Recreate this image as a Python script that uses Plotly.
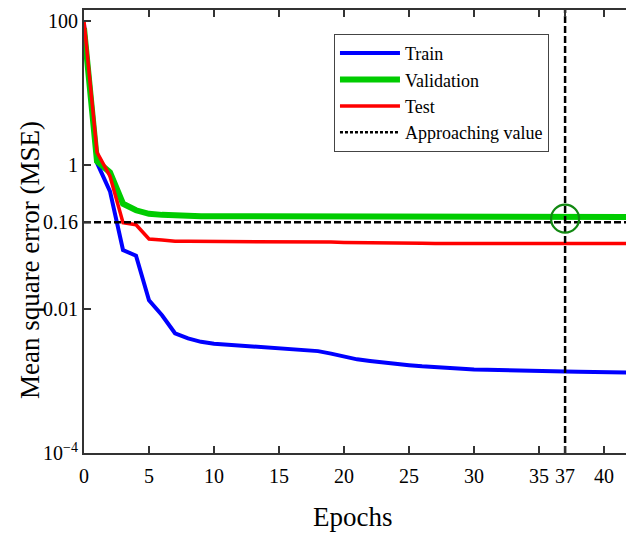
import plotly.graph_objects as go

epochs = list(range(0, 44))

train_mse = [90, 1.07, 0.43, 0.066, 0.055, 0.0132, 0.0082, 0.0046, 0.0039, 0.0035,
             0.0033, 0.0032, 0.0031, 0.00305, 0.0030, 0.0029, 0.0028, 0.0027, 0.0026, 0.0024,
             0.0022, 0.0020, 0.0019, 0.00180, 0.00172, 0.00166, 0.00160, 0.00155, 0.00151, 0.00148,
             0.00145, 0.00143, 0.00141, 0.00139, 0.00138, 0.00137, 0.00136, 0.00135, 0.00134, 0.00133,
             0.00132, 0.00131, 0.00130, 0.00130]

valid_mse = [80, 1.13, 0.79, 0.29, 0.235, 0.21, 0.203, 0.198, 0.196, 0.195,
             0.194, 0.194, 0.193, 0.193, 0.192, 0.192, 0.192, 0.191, 0.191, 0.191,
             0.19, 0.19, 0.19, 0.19, 0.19, 0.19, 0.19, 0.19, 0.19, 0.19,
             0.19, 0.19, 0.19, 0.19, 0.19, 0.19, 0.19, 0.19, 0.19, 0.19,
             0.19, 0.19, 0.19, 0.19]

test_mse = [100, 1.5, 0.70, 0.158, 0.148, 0.094, 0.091, 0.087, 0.087, 0.087,
            0.087, 0.086, 0.086, 0.086, 0.086, 0.086, 0.085, 0.085, 0.085, 0.085,
            0.084, 0.084, 0.083, 0.083, 0.082, 0.082, 0.082, 0.081, 0.081, 0.081,
            0.081, 0.081, 0.081, 0.081, 0.081, 0.081, 0.081, 0.081, 0.081, 0.081,
            0.081, 0.081, 0.081, 0.081]

approach_epoch = 37
approach_mse = 0.16
marker_mse = 0.18

x_tickvals = [0, 5, 10, 15, 20, 25, 30, 35, 37, 40]
y_tickvals = [1e-4, 0.01, 0.16, 1, 100]
y_ticktext = ["10<sup>\u22124</sup>", "0.01", "0.16", "1", "100"]

x_range = [0, 42.3]
y_range_log = [-4, 2.153]

FONT = "Liberation Serif, Times New Roman, serif"

fig = go.Figure()
fig.add_trace(go.Scatter(x=epochs, y=train_mse, mode="lines", name="Train",
                         line=dict(color="#0000ff", width=4)))
fig.add_trace(go.Scatter(x=epochs, y=valid_mse, mode="lines", name="Validation",
                         line=dict(color="#00cc00", width=6)))
fig.add_trace(go.Scatter(x=epochs, y=test_mse, mode="lines", name="Test",
                         line=dict(color="#ff0000", width=3.5)))
# legend-only entry
fig.add_trace(go.Scatter(x=[None], y=[None], mode="lines", name="Approaching value",
                         line=dict(color="black", width=2.5, dash="3px,2px")))
# dashed guide lines
fig.add_trace(go.Scatter(x=[x_range[0], epochs[-1]], y=[approach_mse, approach_mse], mode="lines",
                         showlegend=False, line=dict(color="black", width=2.5, dash="7px,3px")))
fig.add_trace(go.Scatter(x=[approach_epoch, approach_epoch],
                         y=[10 ** y_range_log[0], 10 ** (y_range_log[1] + 0.1)], mode="lines",
                         showlegend=False, line=dict(color="black", width=2.5, dash="7px,3px")))
fig.add_trace(go.Scatter(x=[approach_epoch], y=[marker_mse], mode="markers", showlegend=False,
                         marker=dict(symbol="circle-open", size=28, color="#118811",
                                     line=dict(width=2.2, color="#118811"))))

# page body has an 8px default margin, so the figure is shrunk by 8px and offset
fig.update_layout(
    width=626, height=526,
    margin=dict(l=76, r=0, t=2, b=81, autoexpand=False),
    paper_bgcolor="white", plot_bgcolor="white",
    font=dict(family=FONT, size=20, color="black"),
    showlegend=True,
    legend=dict(x=0.4545, y=0.946, xanchor="left", yanchor="top",
                bgcolor="white", bordercolor="#444", borderwidth=1, itemwidth=60,
                font=dict(family=FONT, size=18), tracegroupgap=0),
    xaxis=dict(range=x_range, tickvals=x_tickvals, ticks="inside", ticklen=7, tickwidth=1.5,
               tickcolor="#333", showline=True, linecolor="#333", linewidth=2, mirror="ticks",
               showgrid=False, zeroline=False, tickfont=dict(size=20), automargin=False,
               ticklabelstandoff=4),
    yaxis=dict(type="log", range=y_range_log, tickvals=y_tickvals, ticktext=y_ticktext,
               ticks="inside", ticklen=7, tickwidth=1.5, tickcolor="#333", showline=True,
               linecolor="#333", linewidth=2, mirror=False, showgrid=False, zeroline=False,
               tickfont=dict(size=20), automargin=False),
    annotations=[
        dict(text="Mean square error (MSE)", x=-0.098, y=0.4357, xref="paper", yref="paper",
             textangle=-90, showarrow=False, xanchor="center", yanchor="middle",
             font=dict(family=FONT, size=27)),
        dict(text="Epochs", x=0.489, y=-0.1445, xref="paper", yref="paper",
             showarrow=False, xanchor="center", yanchor="middle",
             font=dict(family=FONT, size=27)),
    ],
)

fig.write_html("out.html")
